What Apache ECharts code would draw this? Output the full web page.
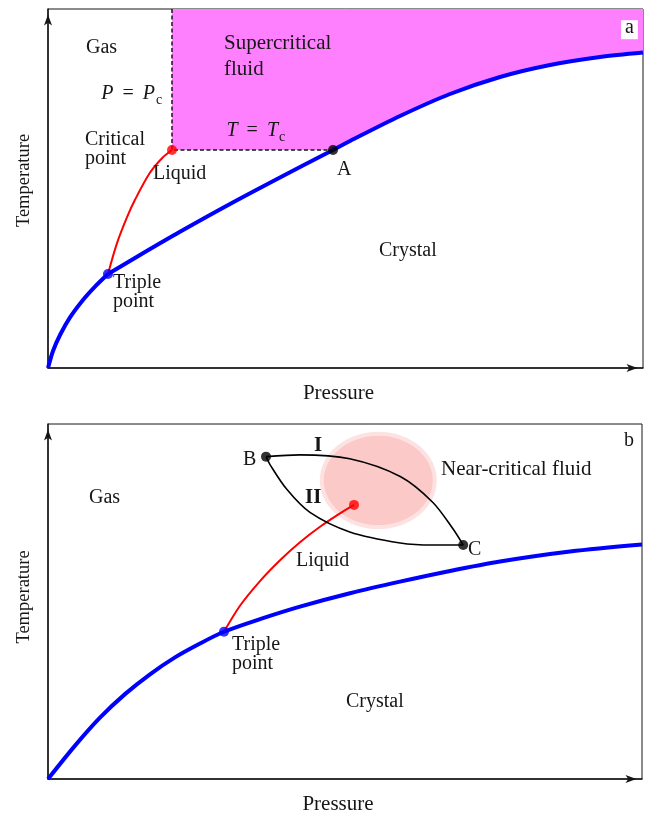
<!DOCTYPE html>
<html>
<head>
<meta charset="utf-8">
<script src="https://cdn.jsdelivr.net/npm/echarts@6/dist/echarts.min.js"></script>
<style>
  html, body { margin: 0; padding: 0; background: #ffffff; }
  #chart { width: 648px; height: 816px; }
</style>
</head>
<body>
<div id="chart"></div>
<script>
// ---- Panel a: phase diagram with supercritical region ----
const aCrystalBoundary = [[0, 0], [0.84, 4.74], [2.02, 9.19], [3.70, 14.09], [5.88, 18.94], [7.90, 22.67],
  [10.08, 26.18], [15.46, 31.48], [22.18, 37.94], [30.59, 45.68], [38.99, 53.06], [47.90, 60.72],
  [50.76, 63.23], [59.16, 70.19], [67.56, 76.32], [75.97, 81.06], [84.37, 84.40], [92.77, 86.63], [100, 87.88]];
const aLiquidBoundary = [[10.08, 26.18], [11.6, 34.8], [13.3, 42.1], [14.6, 46.8], [17.1, 54.3],
  [19.2, 58.5], [20.84, 60.72]];
const aTriplePoint = [10.08, 26.18];
const aCriticalPoint = [20.84, 60.72];
const aPointA = [47.90, 60.72];

// ---- Panel b: near-critical fluid and paths I / II ----
const bCrystalBoundary = [[0, 0], [4.55, 9.41], [8.75, 17.29], [12.96, 23.91], [17.17, 29.50], [21.38, 34.27],
  [25.59, 38.18], [29.63, 41.48], [35.69, 45.03], [42.42, 48.55], [50.84, 52.32], [59.26, 55.59],
  [67.68, 58.60], [76.09, 61.26], [87.88, 64.08], [100, 66.06]];
const bLiquidBoundary = [[29.63, 41.48], [32.32, 48.80], [35.69, 55.75], [39.06, 61.62], [42.42, 66.70],
  [45.79, 71.06], [49.16, 74.83], [51.52, 77.21]];
const bTriplePoint = [29.63, 41.48];
const bCriticalPoint = [51.52, 77.21];
const bPointB = [36.7, 90.8];
const bPointC = [69.9, 65.9];
const pathI = [[36.7, 90.8], [42.4, 91.3], [50.8, 90.2], [59.3, 85.2], [64.8, 77.9], [68.2, 70.4], [69.9, 65.9]];
const pathII = [[36.7, 90.8], [37.4, 88.5], [40.2, 81.6], [44.1, 75.1], [50.8, 69.6], [59.3, 66.5],
  [64.8, 65.9], [69.9, 65.9]];
// centre x, centre y, half-width, half-height (axis units)
const nearCriticalZone = [55.6, 84.1, 9.85, 13.7];

const axisRange = [0, 100];

const SERIF = '"Liberation Serif", "Times New Roman", serif';
const INK = '#161616';
const BLUE = '#0000ff';
const RED = '#ff0000';
const MAGENTA = '#ff80ff';

const chart = echarts.init(document.getElementById('chart'), null, { renderer: 'canvas' });

function axisPair(gridIndex, nameX, nameY, yShift) {
  const arrowLine = {
    show: true,
    symbol: ['none', 'arrow'],
    symbolSize: [6, 11],
    symbolOffset: [0, -5.5],
    lineStyle: { color: INK, width: 1.5 }
  };
  return {
    x: {
      type: 'value', gridIndex, min: axisRange[0], max: axisRange[1],
      axisLine: arrowLine, axisTick: { show: false }, axisLabel: { show: false }, splitLine: { show: false },
      name: nameX, nameLocation: 'middle', nameGap: 15,
      nameTextStyle: { fontFamily: SERIF, fontSize: 21, color: INK, padding: [0, 14, 0, 0] }
    },
    y: {
      type: 'value', gridIndex, min: axisRange[0], max: axisRange[1],
      axisLine: arrowLine, axisTick: { show: false }, axisLabel: { show: false }, splitLine: { show: false },
      name: nameY, nameLocation: 'middle', nameGap: 14,
      nameTextStyle: { fontFamily: SERIF, fontSize: 18.5, color: INK, padding: [0, 0, 0, yShift] }
    }
  };
}
const axA = axisPair(0, 'Pressure', 'Temperature', 16);
const axB = axisPair(1, 'Pressure', 'Temperature', 9);

function curve(idx, data, color, width, extra) {
  return Object.assign({
    type: 'line', xAxisIndex: idx, yAxisIndex: idx, data,
    smooth: 0.3, showSymbol: false, silent: true,
    lineStyle: { color, width }, z: 3
  }, extra || {});
}
function dot(idx, point, color, size) {
  return {
    type: 'scatter', xAxisIndex: idx, yAxisIndex: idx, data: [point],
    symbol: 'circle', symbolSize: size || 10, itemStyle: { color }, z: 5, silent: true
  };
}
const indexOf = (arr, p) => arr.findIndex(q => q[0] === p[0] && q[1] === p[1]);

// the melting curve is drawn in pieces that meet at the triple point and at A
const aiT = indexOf(aCrystalBoundary, aTriplePoint);
const aiA = indexOf(aCrystalBoundary, aPointA);

function label(text, left, baseline, opt) {
  opt = opt || {};
  const size = opt.size || 20;
  const lh = opt.lh || size;
  const pad = opt.pad || [0, 0, 0, 0];
  return {
    type: 'text', x: left, y: baseline - 0.34 * size - lh / 2 - pad[0], z: 100,
    style: {
      text, fontFamily: SERIF, fontSize: size, fontWeight: opt.weight || 'normal',
      fontStyle: opt.fstyle || 'normal', fill: INK, lineHeight: lh,
      align: opt.align || 'left', textAlign: opt.align || 'left',
      verticalAlign: 'top', textVerticalAlign: 'top',
      rich: opt.rich, backgroundColor: opt.bg, padding: opt.pad
    }
  };
}
const mathRich = {
  i: { fontFamily: SERIF, fontSize: 20, fontStyle: 'italic', fill: INK, lineHeight: 20 },
  e: { fontFamily: SERIF, fontSize: 20, fill: INK, padding: [0, 9], lineHeight: 20 }
};

const option = {
  animation: false,
  backgroundColor: '#ffffff',
  grid: [
    { left: 48, top: 9, width: 595, height: 359, show: true, borderColor: INK, borderWidth: 1, backgroundColor: 'transparent' },
    { left: 48, top: 424, width: 594, height: 358, show: true, borderColor: INK, borderWidth: 1, backgroundColor: 'transparent' }
  ],
  xAxis: [axA.x, axB.x],
  yAxis: [axA.y, axB.y],
  series: [
    // supercritical region: above T = Tc between P = Pc and A, then above the melting curve
    curve(0, [aCriticalPoint, aPointA], MAGENTA, 0, {
      smooth: false, lineStyle: { width: 0, opacity: 0 },
      areaStyle: { color: MAGENTA, opacity: 1, origin: 'end' }, z: 1
    }),
    curve(0, aCrystalBoundary.slice(aiA), BLUE, 4, {
      areaStyle: { color: MAGENTA, opacity: 1, origin: 'end' }, z: 2
    }),
    curve(0, aCrystalBoundary.slice(0, aiT + 1), BLUE, 4),
    curve(0, aCrystalBoundary.slice(aiT, aiA + 1), BLUE, 4),
    // dashed P = Pc and T = Tc boundaries
    curve(0, [[aCriticalPoint[0], axisRange[1]], aCriticalPoint, aPointA], INK, 1.5, {
      smooth: false, lineStyle: { color: INK, width: 1.5, type: [4, 2.5] }, z: 3
    }),
    curve(0, aLiquidBoundary, RED, 2),
    dot(0, aTriplePoint, BLUE),
    dot(0, aCriticalPoint, RED),
    dot(0, aPointA, '#000000'),

    // near-critical fluid zone
    {
      type: 'custom', xAxisIndex: 1, yAxisIndex: 1, data: [nearCriticalZone], z: 1, silent: true,
      renderItem: function (params, api) {
        const c = api.coord([api.value(0), api.value(1)]);
        const s = api.size([api.value(2), api.value(3)]);
        const outer = { type: 'circle', x: c[0], y: c[1], scaleX: s[0] / s[1],
          shape: { cx: 0, cy: 0, r: s[1] }, style: { fill: '#fde2e2' } };
        const inner = { type: 'circle', x: c[0], y: c[1], scaleX: (s[0] - 4) / (s[1] - 4),
          shape: { cx: 0, cy: 0, r: s[1] - 4 }, style: { fill: '#fcc9c9' } };
        return { type: 'group', children: [outer, inner] };
      }
    },
    curve(1, bCrystalBoundary, BLUE, 4),
    curve(1, bLiquidBoundary, RED, 2),
    curve(1, pathI, '#000000', 1.6),
    curve(1, pathII, '#000000', 1.6),
    dot(1, bTriplePoint, BLUE),
    dot(1, bCriticalPoint, RED),
    dot(1, bPointB, '#000000'),
    dot(1, bPointC, '#000000')
  ],
  graphic: [
    // panel a
    label('Gas', 86, 55),
    label('Supercritical\nfluid', 224, 51, { lh: 26, size: 21 }),
    label('{i|P}{e|=}{i|P}', 155, 101, { align: 'right', rich: mathRich }),
    label('c', 156, 105, { size: 14 }),
    label('{i|T}{e|=}{i|T}', 278, 138, { align: 'right', rich: mathRich }),
    label('c', 279, 142, { size: 14 }),
    label('Critical\npoint', 85, 147, { lh: 19 }),
    label('Liquid', 153, 181),
    label('A', 337, 177),
    label('a', 621, 35, { lh: 14, pad: [1, 4, 4, 4], bg: '#ffffff' }),
    label('Triple\npoint', 113, 290, { lh: 19 }),
    label('Crystal', 379, 258),
    // panel b
    label('B', 243, 467),
    label('I', 314, 453, { weight: 'bold', size: 21 }),
    label('II', 305, 505, { weight: 'bold', size: 21 }),
    label('C', 468, 557),
    label('Near-critical fluid', 441, 477, { size: 21 }),
    label('b', 624, 448),
    label('Gas', 89, 505),
    label('Liquid', 296, 568),
    label('Triple\npoint', 232, 652, { lh: 19 }),
    label('Crystal', 346, 709)
  ]
};

chart.setOption(option);
</script>
</body>
</html>
